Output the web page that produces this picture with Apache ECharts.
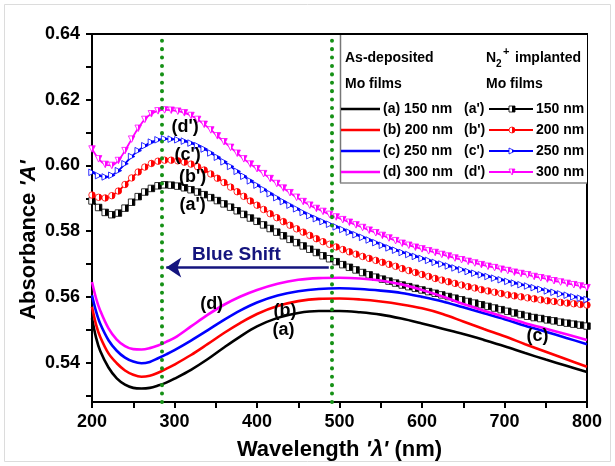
<!DOCTYPE html>
<html><head><meta charset="utf-8">
<script src="https://cdn.jsdelivr.net/npm/echarts@6/dist/echarts.min.js"></script>
<style>html,body{margin:0;padding:0;background:#fff}#c{width:615px;height:466px}</style>
</head><body><div id="c"></div>
<script>
// ---------- data ----------
const wlSolid = [200,205,210,220,230,240,250,260,270,280,290,300,320,340,360,380,400,425,450,475,500,525,550,575,600,625,650,675,700,725,750,775,800];
const solidA = [0.5535,0.5475,0.5435,0.5385,0.5352,0.5333,0.5323,0.5321,0.5323,0.5330,0.5339,0.5351,0.5378,0.5410,0.5446,0.5480,0.5510,0.5536,0.5551,0.5557,0.5557,0.5553,0.5546,0.5534,0.5519,0.5503,0.5487,0.5469,0.5450,0.5429,0.5409,0.5390,0.5371];
const solidB = [0.5570,0.5515,0.5478,0.5428,0.5398,0.5376,0.5363,0.5357,0.5360,0.5369,0.5381,0.5394,0.5423,0.5456,0.5490,0.5521,0.5548,0.5572,0.5587,0.5594,0.5595,0.5592,0.5586,0.5577,0.5565,0.5548,0.5525,0.5502,0.5480,0.5456,0.5433,0.5410,0.5387];
const solidC = [0.5605,0.5555,0.5518,0.5468,0.5436,0.5415,0.5403,0.5398,0.5402,0.5413,0.5425,0.5438,0.5467,0.5498,0.5530,0.5559,0.5583,0.5604,0.5617,0.5624,0.5626,0.5624,0.5619,0.5612,0.5600,0.5586,0.5568,0.5550,0.5532,0.5512,0.5494,0.5475,0.5456];
const solidD = [0.5645,0.5595,0.5558,0.5504,0.5470,0.5450,0.5441,0.5440,0.5444,0.5452,0.5463,0.5475,0.5510,0.5545,0.5576,0.5601,0.5621,0.5640,0.5652,0.5657,0.5658,0.5656,0.5650,0.5638,0.5621,0.5601,0.5578,0.5558,0.5539,0.5520,0.5503,0.5486,0.5469];

const wlImpl = [200,208,216,224,232,240,248,256,264,272,280,288,296,304,312,320,328,336,344,352,360,368,376,384,392,400,408,416,424,432,440,448,456,464,472,480,488,496,504,512,520,528,536,544,552,560,568,576,584,592,600,608,616,624,632,640,648,656,664,672,680,688,696,704,712,720,728,736,744,752,760,768,776,784,792,800];
const implA = [0.5892,0.5872,0.5857,0.5850,0.5855,0.5870,0.5888,0.5905,0.5919,0.5930,0.5938,0.5941,0.5940,0.5937,0.5932,0.5926,0.5919,0.5911,0.5902,0.5893,0.5883,0.5873,0.5862,0.5851,0.5840,0.5830,0.5819,0.5808,0.5797,0.5786,0.5775,0.5765,0.5755,0.5745,0.5735,0.5725,0.5716,0.5707,0.5698,0.5690,0.5682,0.5674,0.5667,0.5660,0.5654,0.5648,0.5642,0.5636,0.5631,0.5626,0.5621,0.5616,0.5611,0.5606,0.5601,0.5596,0.5591,0.5586,0.5581,0.5576,0.5571,0.5566,0.5561,0.5556,0.5551,0.5546,0.5541,0.5537,0.5534,0.5530,0.5527,0.5523,0.5520,0.5517,0.5514,0.5511];
const implB = [0.5910,0.5903,0.5901,0.5908,0.5922,0.5942,0.5962,0.5980,0.5995,0.6006,0.6013,0.6016,0.6016,0.6014,0.6010,0.6004,0.5996,0.5986,0.5974,0.5961,0.5948,0.5934,0.5920,0.5906,0.5892,0.5879,0.5866,0.5853,0.5841,0.5829,0.5818,0.5807,0.5797,0.5787,0.5777,0.5768,0.5760,0.5752,0.5744,0.5737,0.5730,0.5723,0.5717,0.5711,0.5705,0.5699,0.5693,0.5686,0.5680,0.5674,0.5668,0.5662,0.5656,0.5651,0.5646,0.5641,0.5636,0.5631,0.5627,0.5622,0.5618,0.5614,0.5610,0.5606,0.5603,0.5600,0.5597,0.5594,0.5591,0.5588,0.5586,0.5583,0.5581,0.5579,0.5577,0.5575];
const implC = [0.5979,0.5969,0.5965,0.5970,0.5984,0.6005,0.6027,0.6045,0.6060,0.6071,0.6078,0.6081,0.6080,0.6078,0.6074,0.6068,0.6060,0.6050,0.6038,0.6025,0.6011,0.5997,0.5982,0.5967,0.5953,0.5940,0.5927,0.5914,0.5902,0.5890,0.5879,0.5868,0.5857,0.5847,0.5838,0.5829,0.5821,0.5813,0.5805,0.5797,0.5789,0.5781,0.5773,0.5765,0.5757,0.5749,0.5742,0.5735,0.5729,0.5723,0.5717,0.5711,0.5705,0.5700,0.5694,0.5688,0.5683,0.5677,0.5672,0.5667,0.5662,0.5657,0.5652,0.5647,0.5642,0.5637,0.5633,0.5628,0.5623,0.5618,0.5614,0.5609,0.5605,0.5600,0.5596,0.5592];
const implD = [0.6050,0.6020,0.6003,0.6000,0.6015,0.6045,0.6080,0.6113,0.6140,0.6157,0.6166,0.6169,0.6168,0.6165,0.6160,0.6152,0.6140,0.6125,0.6108,0.6090,0.6072,0.6055,0.6037,0.6020,0.6004,0.5990,0.5975,0.5960,0.5945,0.5931,0.5917,0.5903,0.5890,0.5879,0.5869,0.5860,0.5851,0.5843,0.5835,0.5827,0.5819,0.5811,0.5803,0.5795,0.5787,0.5779,0.5771,0.5763,0.5757,0.5751,0.5746,0.5740,0.5735,0.5729,0.5724,0.5718,0.5713,0.5708,0.5703,0.5698,0.5693,0.5689,0.5684,0.5680,0.5675,0.5671,0.5667,0.5662,0.5658,0.5654,0.5649,0.5645,0.5641,0.5637,0.5633,0.5628];

const xLabelValues = [200,300,400,500,600,700,800];
const yTickValues = [0.53,0.54,0.55,0.56,0.57,0.58,0.59,0.60,0.61,0.62,0.63,0.64];
const yLabelValues = [0.54,0.56,0.58,0.60,0.62,0.64];
const peakLines = [284, 490];
const blueShift = [487, 290, 0.5689];
const thicknesses = ['150 nm','200 nm','250 nm','300 nm'];
const curveLabels = [
  ["(d')", 313, 0.6118], ["(c')", 316, 0.6033], ["(b')", 322, 0.5966], ["(a')", 322, 0.5878],
  ["(d)", 345, 0.5577], ["(b)", 434, 0.5556], ["(a)", 432, 0.5498], ["(c)", 740, 0.5480]
];

// ---------- styling ----------
const FF = "'Liberation Sans', Arial, sans-serif";
const COLORS = ['#000000', '#ff0000', '#0000ff', '#ff00ff'];
const NAVY = '#14147e';
const SYMS = ['rect', 'circle', 'path://M0 0L10 5L0 10Z', 'path://M0 0H10L5 10Z'];
function half(c) {
  return new echarts.graphic.LinearGradient(0, 0, 1, 0, [
    {offset: 0, color: '#ffffff'}, {offset: 0.5, color: '#ffffff'},
    {offset: 0.5, color: c}, {offset: 1, color: c}]);
}
const pairs = (xs, ys) => xs.map((x, i) => [x, ys[i]]);
const solids = [solidA, solidB, solidC, solidD];
const impls = [implA, implB, implC, implD];
const letters = ['a','b','c','d'];

const series = [];
impls.forEach((arr, i) => {
  series.push({
    type: 'line', name: '(' + letters[i] + "') " + thicknesses[i],
    data: pairs(wlImpl, arr), smooth: 0.3,
    symbol: SYMS[i], symbolSize: 6.5, showSymbol: true, showAllSymbol: true,
    lineStyle: {color: COLORS[i], width: 1.8},
    itemStyle: {color: half(COLORS[i]), borderColor: COLORS[i], borderWidth: 0.8, opacity: 1},
    z: 3, silent: true
  });
});
solids.forEach((arr, i) => {
  series.push({
    type: 'line', name: '(' + letters[i] + ') ' + thicknesses[i],
    data: pairs(wlSolid, arr), smooth: 0.35, symbol: 'none', showSymbol: false,
    lineStyle: {color: COLORS[i], width: 2.6}, z: 4, silent: true
  });
});
series.push({
  type: 'line', data: [], silent: true, z: 5,
  markLine: {
    silent: true, symbol: ['none', 'none'], label: {show: false}, animation: false,
    lineStyle: {color: '#169116', width: 4, type: [0.1, 8.3], cap: 'round', opacity: 1},
    data: peakLines.map(v => ({xAxis: v}))
  }
});
series.push({
  type: 'line', data: [], silent: true, z: 6,
  markLine: {
    silent: true, symbol: ['none', 'arrow'], symbolSize: 15, label: {show: false}, animation: false,
    itemStyle: {color: NAVY, opacity: 1},
    lineStyle: {color: NAVY, width: 2.6, type: 'solid', opacity: 1},
    data: [[{coord: [blueShift[0], blueShift[2]]}, {coord: [blueShift[1], blueShift[2]]}]]
  }
});
series.push({
  type: 'scatter', silent: true, z: 7, symbolSize: 1,
  itemStyle: {color: 'rgba(0,0,0,0)', opacity: 1},
  label: {show: true, position: 'inside', formatter: '{b}', color: '#000', opacity: 1,
          fontFamily: FF, fontWeight: 'bold', fontSize: 18},
  data: curveLabels.map(l => ({name: l[0], value: [l[1], l[2]]})).concat([
    {name: 'Blue Shift', value: [375, 0.5729],
     label: {color: NAVY, fontSize: 19, fontWeight: 'bold', fontFamily: FF}}
  ])
});

// ---------- legend (graphic) ----------
const G = [];
function txt(x, y, text, size, extra) {
  return {type: 'text', x: x, y: y, z: 101, silent: true,
    style: Object.assign({text: text, fill: '#000', font: 'bold ' + (size || 14) + 'px ' + FF,
      align: 'left', verticalAlign: 'middle'}, extra || {})};
}
G.push({type: 'rect', z: 100, silent: true, shape: {x: 340, y: 35, width: 247, height: 148},
  style: {fill: '#fff', stroke: null}});
G.push({type: 'line', z: 101, silent: true, shape: {x1: 340.5, y1: 35, x2: 340.5, y2: 183}, style: {stroke: '#777', lineWidth: 1.5}});
G.push({type: 'line', z: 101, silent: true, shape: {x1: 340, y1: 183, x2: 587, y2: 183}, style: {stroke: '#888', lineWidth: 1.5}});
G.push(txt(345, 58, 'As-deposited'));
G.push(txt(345, 84, 'Mo films'));
G.push(txt(486, 58, 'N'));
G.push(txt(496, 64, '2', 10));
G.push(txt(503, 52, '+', 11));
G.push(txt(515, 58, 'implanted'));
G.push(txt(486, 84, 'Mo films'));
const rowY = [109, 130, 151, 172];
rowY.forEach((y, i) => {
  const c = COLORS[i];
  G.push({type: 'line', z: 101, silent: true, shape: {x1: 341, y1: y, x2: 380, y2: y}, style: {stroke: c, lineWidth: 2.6}});
  G.push(txt(383, y, '(' + letters[i] + ') ' + thicknesses[i]));
  G.push(txt(464, y, '(' + letters[i] + "')"));
  G.push({type: 'line', z: 101, silent: true, shape: {x1: 489, y1: y, x2: 533, y2: y}, style: {stroke: c, lineWidth: 2}});
  const mk = {z: 102, silent: true, style: {fill: half(c), stroke: c, lineWidth: 0.8}};
  if (i === 0) G.push(Object.assign({type: 'rect', shape: {x: 509, y: y - 3, width: 6, height: 6}}, mk));
  if (i === 1) G.push(Object.assign({type: 'circle', shape: {cx: 512, cy: y, r: 3}}, mk));
  if (i === 2) G.push(Object.assign({type: 'polygon', shape: {points: [[509, y - 3], [515, y], [509, y + 3]]}}, mk));
  if (i === 3) G.push(Object.assign({type: 'polygon', shape: {points: [[509, y - 3], [515, y - 3], [512, y + 3]]}}, mk));
  G.push(txt(536, y, thicknesses[i]));
});
G.push({type: 'text', x: 29, y: 240, rotation: Math.PI / 2, z: 50, silent: true,
  style: {text: "Absorbance {i|'A'}", fill: '#000', font: 'bold 22px ' + FF, align: 'center', verticalAlign: 'middle',
    rich: {i: {fontStyle: 'italic', fontWeight: 'bold', fontSize: 22, fontFamily: FF, fill: '#000'}}}});
G.push({type: 'rect', z: 0, silent: true, shape: {x: 4.5, y: 4.5, width: 606, height: 457},
  style: {fill: null, stroke: '#dcdcdc', lineWidth: 1}});

const axisFont = {fontFamily: FF, fontWeight: 'bold', fontSize: 18, color: '#000'};
const option = {
  animation: false,
  backgroundColor: '#fff',
  grid: {left: 92, right: 28, top: 34, bottom: 64, show: true, borderColor: '#000', borderWidth: 2, backgroundColor: 'transparent'},
  xAxis: {
    type: 'value', min: 200, max: 800, interval: 50,
    axisLine: {show: true, onZero: false, lineStyle: {color: '#000', width: 2}},
    axisTick: {show: true, length: 6, lineStyle: {color: '#000', width: 2}},
    axisLabel: Object.assign({margin: 11, formatter: v => (xLabelValues.indexOf(v) >= 0 ? String(v) : '')}, axisFont),
    splitLine: {show: false},
    name: "Wavelength {i|'λ'} (nm)", nameLocation: 'middle', nameGap: 37,
    nameTextStyle: {fontFamily: FF, fontWeight: 'bold', fontSize: 22, color: '#000',
      rich: {i: {fontFamily: FF, fontStyle: 'italic', fontWeight: 'bold', fontSize: 22, color: '#000'}}}
  },
  yAxis: {
    type: 'value', min: 0.528, max: 0.64,
    axisLine: {show: true, onZero: false, lineStyle: {color: '#000', width: 2}},
    axisTick: {show: true, length: 6, lineStyle: {color: '#000', width: 2}, customValues: yTickValues},
    axisLabel: Object.assign({margin: 12, customValues: yLabelValues, formatter: v => Number(v).toFixed(2)}, axisFont),
    splitLine: {show: false}
  },
  graphic: G,
  series: series
};
const chart = echarts.init(document.getElementById('c'), null, {renderer: 'canvas'});
chart.setOption(option);
</script>
</body></html>
